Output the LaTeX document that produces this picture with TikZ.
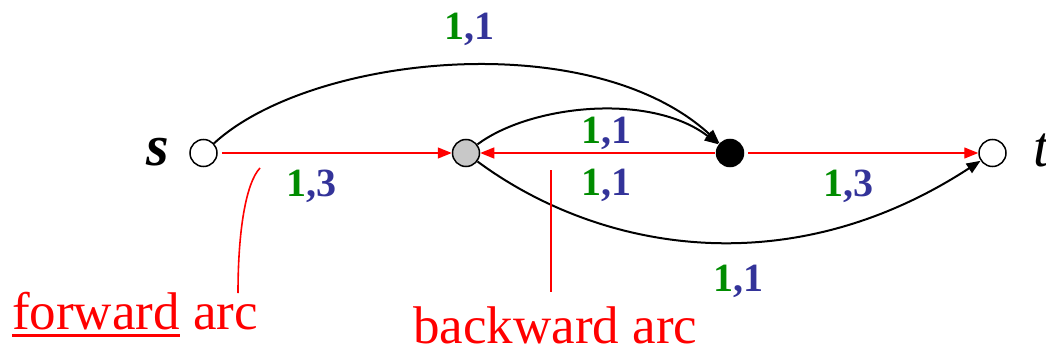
\documentclass[tikz,border=0pt]{standalone}
\usepackage{fontspec}
\IfFontExistsTF{LiberationSerif-Regular.ttf}{%
\setmainfont{LiberationSerif-Regular.ttf}[BoldFont=LiberationSerif-Bold.ttf, ItalicFont=LiberationSerif-Italic.ttf, BoldItalicFont=LiberationSerif-BoldItalic.ttf]}{%
\setmainfont{Liberation Serif}}
\usetikzlibrary{arrows.meta}
\definecolor{lgreen}{RGB}{0,140,0}
\definecolor{lblue}{RGB}{51,51,153}
\definecolor{nodegray}{RGB}{200,200,200}
\newcommand\myul[1]{\setbox0=\hbox{#1}\rlap{\rule[-8pt]{\wd0}{3pt}}\box0\relax}
\newcommand\flow[2]{{\color{lgreen}#1}{\color{lblue},#2}}
\tikzset{
  vertex/.style={circle, draw=black, line width=1.5pt, minimum size=27pt, inner sep=0pt},
  redarc/.style={draw=red, line width=1.3pt, -{Triangle[length=14pt,width=11pt]}},
  blackarc/.style={draw=black, line width=2pt, -{Triangle[length=14pt,width=11pt]}},
  flowlbl/.style={font=\fontsize{40}{40}\selectfont\bfseries, inner sep=0pt, anchor=base},
  callout/.style={draw=red, line width=1.6pt},
  calltext/.style={font=\fontsize{53}{53}\selectfont, text=red, inner sep=0pt, anchor=base west}
}
\begin{document}
\begin{tikzpicture}[x=1pt,y=-1pt]
\useasboundingbox (0,0) rectangle (1046,350);
% vertices
\node[vertex, fill=white] (s) at (203.5,153) {};
\node[vertex, fill=nodegray] (g) at (466,153) {};
\node[vertex, fill=black] (b) at (730,153) {};
\node[vertex, fill=white] (t) at (992.5,153) {};
% vertex labels
\node[font=\fontsize{58}{58}\selectfont\bfseries\itshape, inner sep=0pt, anchor=base] (sl) at (158,165) {s};
\node[font=\fontsize{58}{58}\selectfont\itshape, inner sep=0pt, anchor=base west] (tl) at (1033,166) {t};
% red arcs
\draw[redarc, shorten <=4pt] (s) -- (g);
\draw[redarc, shorten <=1pt] (b) -- (g);
\draw[redarc, shorten <=4pt] (b) -- (t);
% black arcs
\draw[blackarc] (s) .. controls (310,55) and (590,25) .. (b);
\draw[blackarc] (g) .. controls (530,105) and (650,92) .. (b);
\draw[blackarc] (g) .. controls (600,252) and (790,285) .. (t);
% flow labels
\node[flowlbl] (l1) at (469,40) {\flow{1}{1}};
\node[flowlbl] (l2) at (606,143) {\flow{1}{1}};
\node[flowlbl] (l3) at (606,195) {\flow{1}{1}};
\node[flowlbl] (l4) at (311,196) {\flow{1}{3}};
\node[flowlbl] (l5) at (848,196) {\flow{1}{3}};
\node[flowlbl] (l6) at (738,291) {\flow{1}{1}};
% callouts
\node[calltext] (fw) at (12,329) {\myul{forward} arc};
\node[calltext] (bw) at (413,343) {backward arc};
\coordinate (fwtop) at (260,168);
\coordinate (fwbot) at (238,293);
\coordinate (bwtop) at (551,170);
\coordinate (bwbot) at (551,292);
\draw[callout] (fwtop) .. controls (246,183) and (238,230) .. (fwbot);
\draw[callout] (bwtop) -- (bwbot);
\end{tikzpicture}
\end{document}
